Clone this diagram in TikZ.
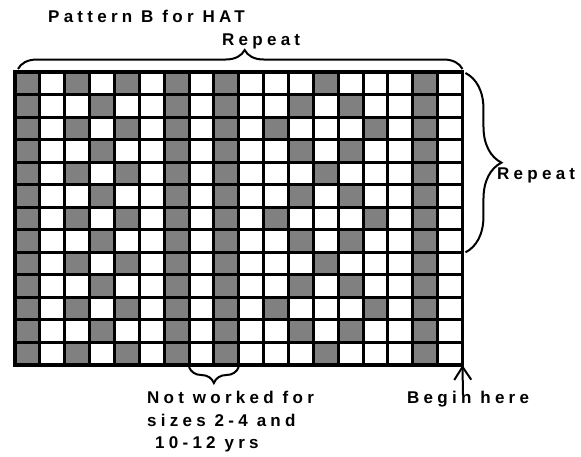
\documentclass[tikz,border=0pt]{standalone}
\usepackage{fontspec}
\usepackage{tikz}
\usetikzlibrary{arrows.meta,positioning,decorations.pathreplacing}
\newfontfamily\chartfont{Liberation Sans}[LetterSpace=25]
\definecolor{stitchgrey}{RGB}{128,128,128}

\begin{document}
\begin{tikzpicture}[x=1pt, y=-1pt,
    lbl/.style={font=\chartfont\bfseries\fontsize{17}{22.5}\selectfont, inner sep=0pt},
    bracket/.style={decorate, line width=2pt, decoration={brace, amplitude=#1}},
    cellline/.style={line width=3pt}]
  \useasboundingbox (0,0) rectangle (581,456);
  \begin{scope}[shift={(15,72)}, x=24.86pt, y=-22.54pt]
    \foreach \r in {0,...,12} {
      \foreach \c in {0,6,8,16} \fill[stitchgrey] (\c,\r) rectangle ++(1,1);
      \pgfmathtruncatemacro\rowmod{mod(\r,4)}
      \ifodd\r
        \foreach \c in {3,11,13} \fill[stitchgrey] (\c,\r) rectangle ++(1,1);
      \else
        \foreach \c in {2,4} \fill[stitchgrey] (\c,\r) rectangle ++(1,1);
        \ifnum\rowmod=0
          \fill[stitchgrey] (12,\r) rectangle ++(1,1);
        \else
          \foreach \c in {10,14} \fill[stitchgrey] (\c,\r) rectangle ++(1,1);
        \fi
      \fi
    }
    \foreach \c in {1,...,17} \draw[cellline] (\c,0) -- (\c,13);
    \foreach \r in {1,...,12} \draw[cellline] (0,\r) -- (18,\r);
    \draw[line width=3.5pt] (0,0) rectangle (18,13);
    \coordinate (gridnw) at (0,0);
    \coordinate (gridne) at (18,0);
    \coordinate (gridse) at (18,13);
    \coordinate (repeatend) at (18,8);
    \coordinate (skipleft) at (7,13);
    \coordinate (skipright) at (9,13);
  \end{scope}

  \draw[bracket=19, decoration={aspect=0.51}] ([xshift=3pt, yshift=3pt]gridnw) -- ([yshift=3pt]gridne);
  \draw[bracket=36] ([xshift=3pt, yshift=-1pt]gridne) -- ([xshift=3pt]repeatend);
  \draw[bracket=16] ([yshift=-2pt]skipright) -- ([yshift=-2pt]skipleft);

  \node[lbl, anchor=base west] (title) at (48,22) {Pattern B for HAT};
  \node[lbl, anchor=base west] (toprepeat) at (222,45) {Repeat};
  \node[lbl, anchor=base west] (siderepeat) at (497,179) {Repeat};
  \node[lbl, anchor=north west, align=left] (notworked) at (147,391) {Not worked for\\sizes 2-4 and\\\hspace*{8pt}10-12 yrs};
  \node[lbl, anchor=base west] (beginhere) at (407,403) {Begin here};

  \coordinate (arrowfoot) at (463,395);
  \draw[line width=2pt, -{Straight Barb[length=13pt, width=17pt]}] (arrowfoot) -- (gridse);
\end{tikzpicture}
\end{document}
